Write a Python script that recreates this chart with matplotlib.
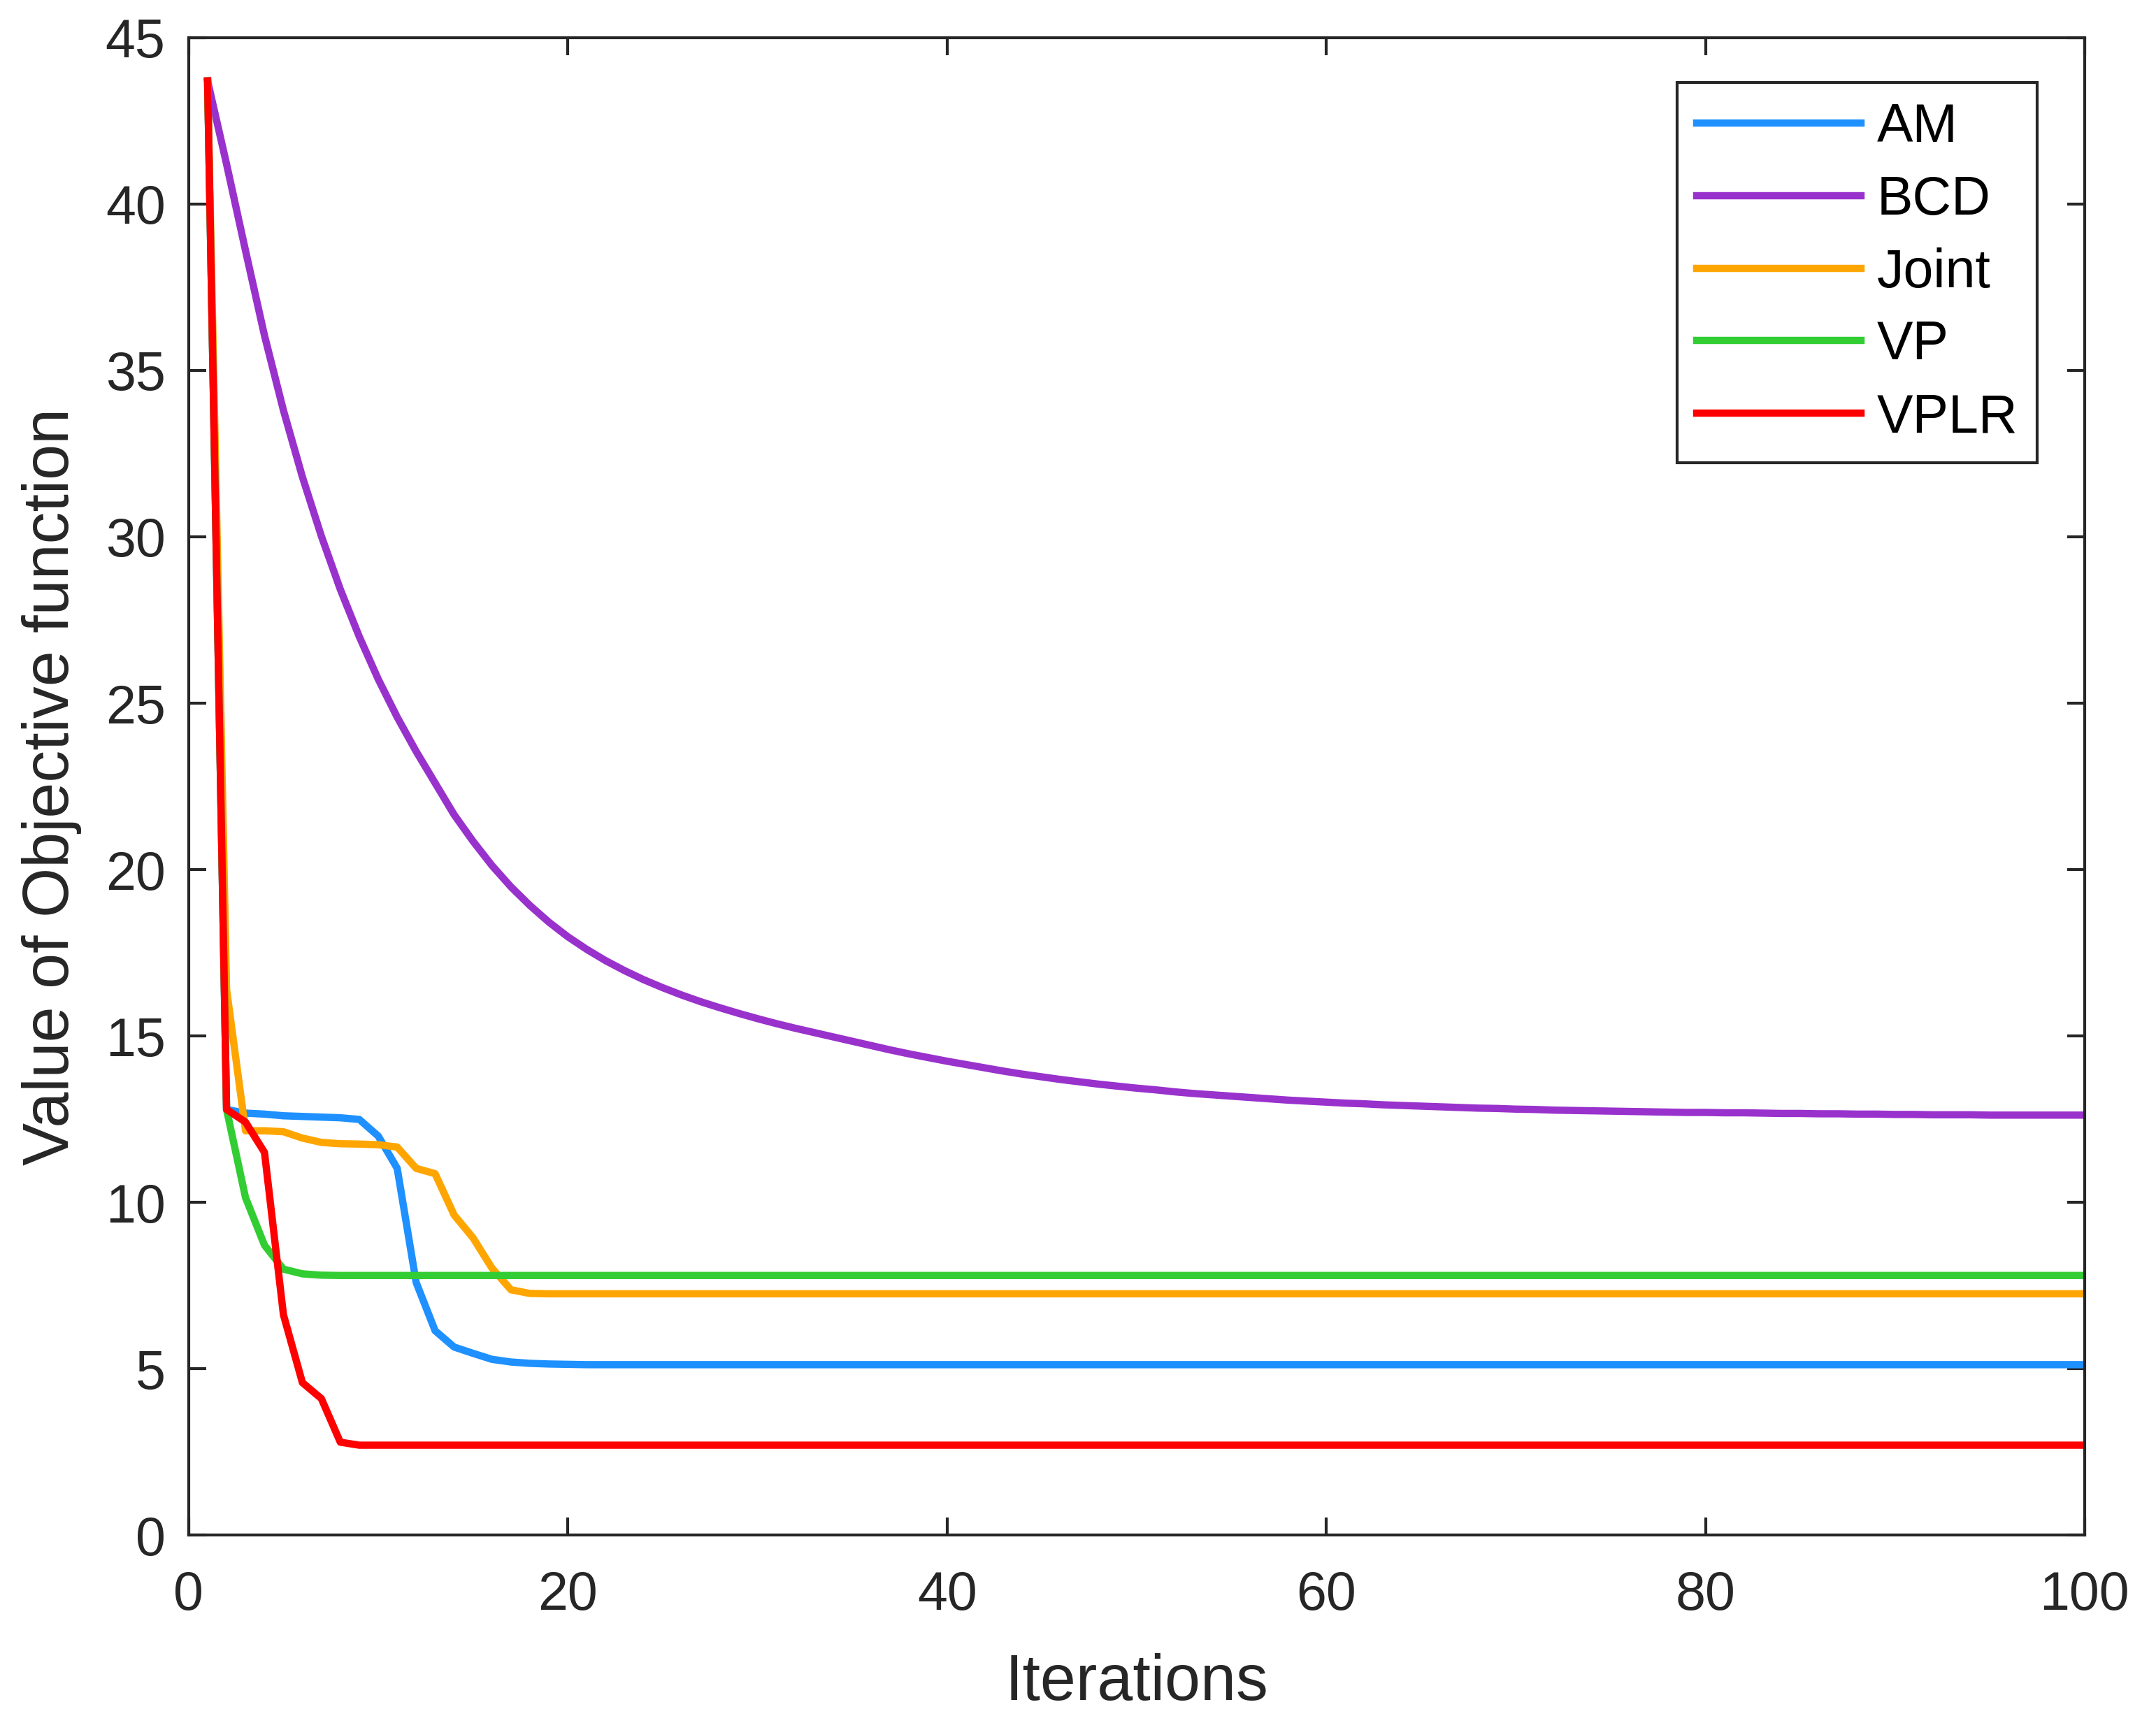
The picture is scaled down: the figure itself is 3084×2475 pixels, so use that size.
import matplotlib
matplotlib.use('Agg')
import matplotlib.pyplot as plt
import numpy as np

plt.rcParams['font.family'] = ['Liberation Sans', 'DejaVu Sans']

iterations = list(range(1, 101))

am = [43.7, 12.79, 12.68, 12.65, 12.60, 12.58, 12.56, 12.54, 12.49, 11.99,
      11.02, 7.59, 6.14, 5.65, 5.46, 5.28, 5.20, 5.16, 5.14, 5.13] + [5.12] * 80

bcd = [43.7, 41.2, 38.6, 36.05, 33.8, 31.8, 30.02, 28.42, 27.0, 25.72,
       24.58, 23.55, 22.6, 21.65, 20.85, 20.12, 19.48, 18.92, 18.42, 17.98,
       17.6, 17.26, 16.96, 16.69, 16.45, 16.23, 16.03, 15.85, 15.68, 15.52,
       15.37, 15.23, 15.1, 14.97, 14.84, 14.71, 14.58, 14.46, 14.35, 14.24,
       14.14, 14.04, 13.94, 13.85, 13.77, 13.69, 13.62, 13.55, 13.49, 13.43,
       13.38, 13.32, 13.27, 13.23, 13.19, 13.15, 13.11, 13.07, 13.04, 13.01,
       12.98, 12.96, 12.93, 12.91, 12.89, 12.87, 12.85, 12.83, 12.82, 12.80,
       12.79, 12.77, 12.76, 12.75, 12.74, 12.73, 12.72, 12.71, 12.70, 12.70,
       12.69, 12.69, 12.68, 12.67, 12.67, 12.66, 12.66, 12.65, 12.65, 12.64,
       12.64, 12.63, 12.63, 12.63, 12.62, 12.62, 12.62, 12.62, 12.62, 12.62]

joint = [43.7, 16.4, 12.15, 12.15, 12.12, 11.93, 11.80, 11.76, 11.75, 11.73,
         11.66, 11.02, 10.86, 9.62, 8.93, 8.02, 7.37, 7.26] + [7.25] * 82

vp = [43.7, 12.79, 10.14, 8.71, 7.99, 7.85, 7.81, 7.80] + [7.80] * 92

vplr = [43.7, 12.79, 12.41, 11.5, 6.62, 4.58, 4.10, 2.79, 2.70] + [2.70] * 91

names = ['AM', 'BCD', 'Joint', 'VP', 'VPLR']
series = [am, bcd, joint, vp, vplr]
colors = ['#1E90FF', '#9932CC', '#FFA500', '#32CD32', '#FF0000']

text_color = '#262626'

fig = plt.figure(figsize=(10.28, 8.25), dpi=300)
ax = fig.add_axes([0.0875, 0.1127, 0.8794, 0.8655])

for name, vals, c in zip(names, series, colors):
    ax.plot(iterations, vals, color=c, linewidth=2.5, label=name)

ax.set_xlim(0, 100)
ax.set_ylim(0, 45)
ax.set_xticks(np.arange(0, 101, 20))
ax.set_yticks(np.arange(0, 46, 5))

ax.tick_params(direction='in', length=6, width=1.0, top=True, right=True,
               labelsize=18.5, colors=text_color, pad=8)
ax.tick_params(axis='x', pad=12)
for sp in ax.spines.values():
    sp.set_color(text_color)
    sp.set_linewidth(1.0)

ax.set_xlabel('Iterations', fontsize=22, color=text_color, labelpad=11)
ax.set_ylabel('Value of Objective function', fontsize=22, color=text_color, labelpad=8)

leg = ax.legend(loc='upper right', bbox_to_anchor=(0.975, 0.97), borderaxespad=0,
                fontsize=18.5, handlelength=3.05, handletextpad=0.3,
                labelspacing=0.4, borderpad=0.36, fancybox=False, framealpha=1)
leg.get_frame().set_edgecolor(text_color)
leg.get_frame().set_linewidth(1.0)

fig.savefig('out.png', dpi=300)
